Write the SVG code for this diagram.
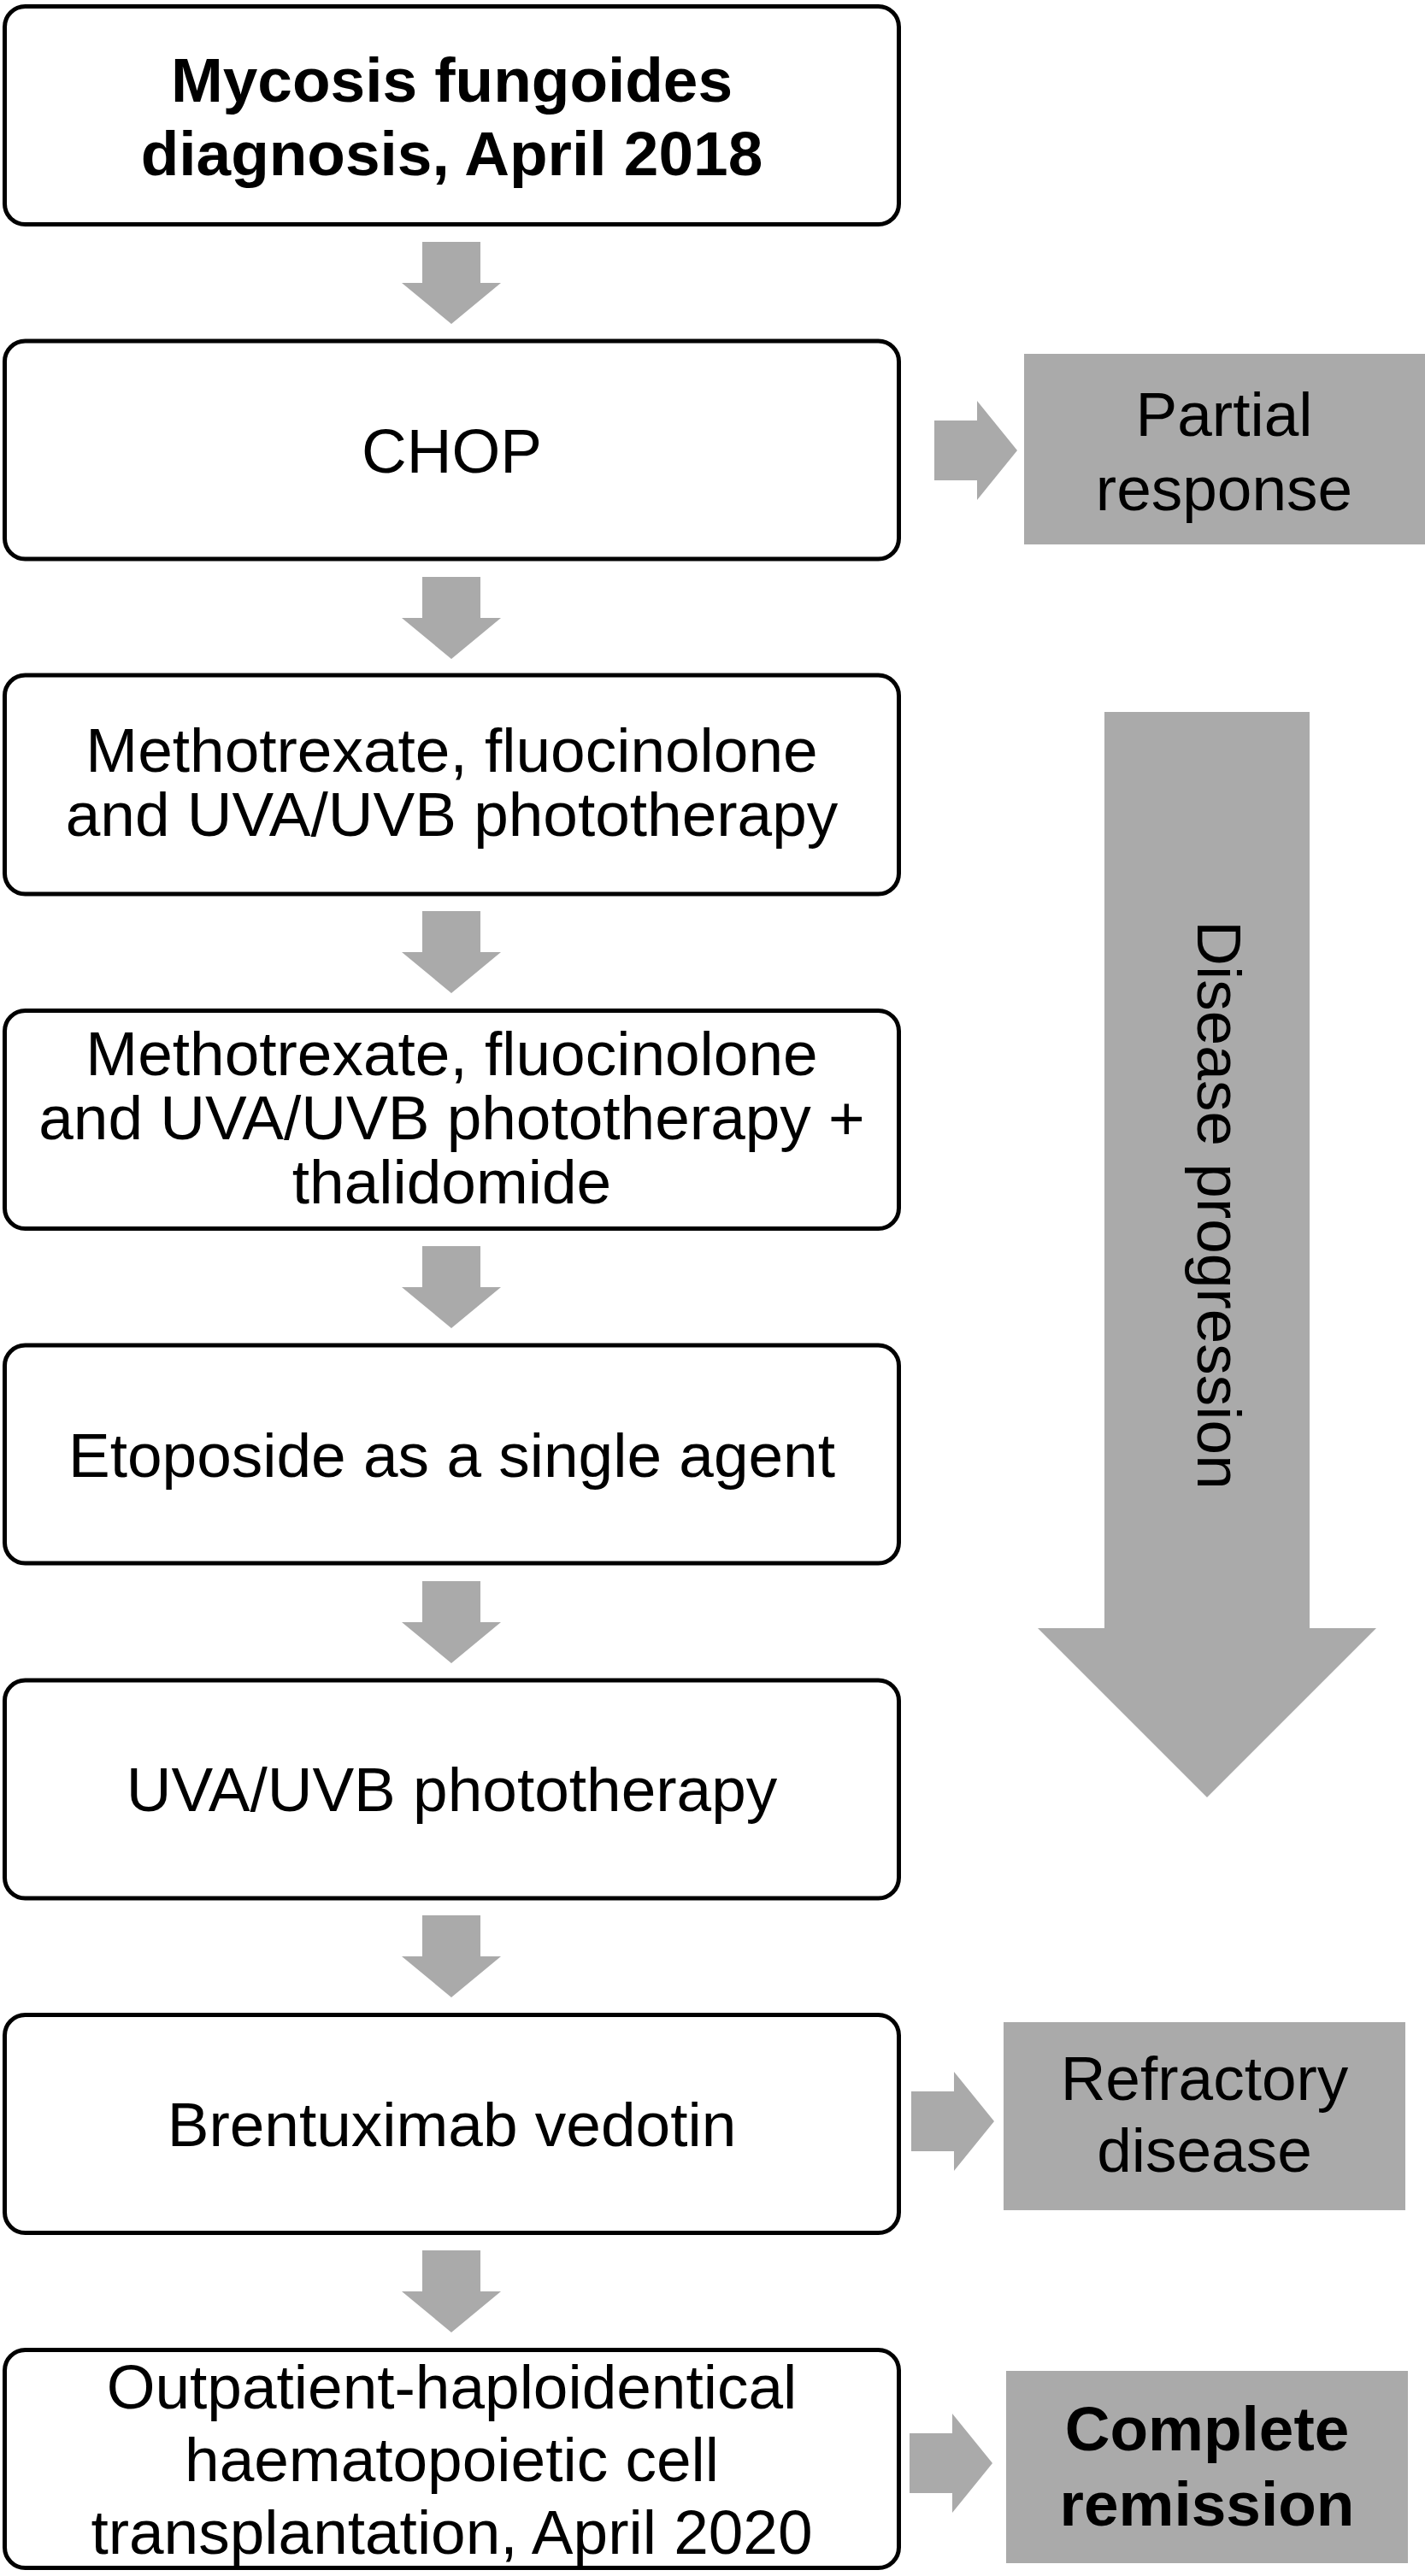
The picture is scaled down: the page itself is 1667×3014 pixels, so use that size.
<svg xmlns="http://www.w3.org/2000/svg" width="1667" height="3014" viewBox="0 0 1667 3014">
<style>
.box{fill:#ffffff;stroke:#000000;stroke-width:5}
.gray{fill:#aaaaaa}
.t{font-family:"Liberation Sans",Arial,sans-serif;font-size:73px;fill:#000000;text-anchor:middle}
.b{font-weight:bold}
</style>
<defs>
<path id="down" d="M-34,0 H34 V48 H58 L0,96 L-58,48 H-34 Z"/>
<path id="right" d="M0,-35 H50 V-58 L97,0 L50,58 V35 H0 Z"/>
</defs>
<rect width="1667" height="3014" fill="#ffffff"/>
<g id="connectors">
<use href="#down" class="gray" x="528" y="283"/>
<use href="#down" class="gray" x="528" y="675"/>
<use href="#down" class="gray" x="528" y="1066"/>
<use href="#down" class="gray" x="528" y="1458"/>
<use href="#down" class="gray" x="528" y="1850"/>
<use href="#down" class="gray" x="528" y="2241"/>
<use href="#down" class="gray" x="528" y="2633"/>
<use href="#right" class="gray" x="1093" y="527"/>
<use href="#right" class="gray" x="1066" y="2482"/>
<use href="#right" class="gray" x="1064" y="2882"/>
</g>
<g id="n1"><rect class="box" x="5.5" y="7.5" width="1046" height="255" rx="24"/>
<text class="t b" x="528.5" y="119" font-size="76">Mycosis fungoides</text>
<text class="t b" x="528.5" y="205" font-size="76">diagnosis, April 2018</text></g>
<g id="n2"><rect class="box" x="5.5" y="399" width="1046" height="255" rx="24"/>
<text class="t" x="528.5" y="553">CHOP</text></g>
<g id="n3"><rect class="box" x="5.5" y="790" width="1046" height="256" rx="24"/>
<text class="t" x="528.5" y="903">Methotrexate, fluocinolone</text>
<text class="t" x="528.5" y="978">and UVA/UVB phototherapy</text></g>
<g id="n4"><rect class="box" x="5.5" y="1182.5" width="1046" height="255" rx="24"/>
<text class="t" x="528.5" y="1258">Methotrexate, fluocinolone</text>
<text class="t" x="528.5" y="1333">and UVA/UVB phototherapy +</text>
<text class="t" x="528.5" y="1408">thalidomide</text></g>
<g id="n5"><rect class="box" x="5.5" y="1574" width="1046" height="255" rx="24"/>
<text class="t" x="528.5" y="1728">Etoposide as a single agent</text></g>
<g id="n6"><rect class="box" x="5.5" y="1966" width="1046" height="255" rx="24"/>
<text class="t" x="528.5" y="2119">UVA/UVB phototherapy</text></g>
<g id="n7"><rect class="box" x="5.5" y="2357.5" width="1046" height="255" rx="24"/>
<text class="t" x="528.5" y="2511">Brentuximab vedotin</text></g>
<g id="n8"><rect class="box" x="5.5" y="2749.5" width="1046" height="255" rx="24"/>
<text class="t" x="528.5" y="2818" font-size="75">Outpatient-haploidentical</text>
<text class="t" x="528.5" y="2903" font-size="75">haematopoietic cell</text>
<text class="t" x="528.5" y="2988" font-size="75">transplantation, April 2020</text></g>
<g id="partial"><rect class="gray" x="1198" y="414" width="469" height="223"/>
<text class="t" x="1432" y="510" font-size="72">Partial</text>
<text class="t" x="1432" y="597" font-size="72">response</text></g>
<g id="refractory"><rect class="gray" x="1174" y="2366" width="470" height="220"/>
<text class="t" x="1409" y="2457" font-size="72">Refractory</text>
<text class="t" x="1409" y="2541" font-size="72">disease</text></g>
<g id="remission"><rect class="gray" x="1177" y="2774" width="470" height="225"/>
<text class="t b" x="1412" y="2867" font-size="72">Complete</text>
<text class="t b" x="1412" y="2955" font-size="72">remission</text></g>
<g id="progression"><path class="gray" d="M1292,833 H1532 V1905 H1610 L1412,2103 L1214,1905 H1292 Z"/>
<text class="t" transform="translate(1401,1410) rotate(90)" font-size="72">Disease progression</text></g>
</svg>
